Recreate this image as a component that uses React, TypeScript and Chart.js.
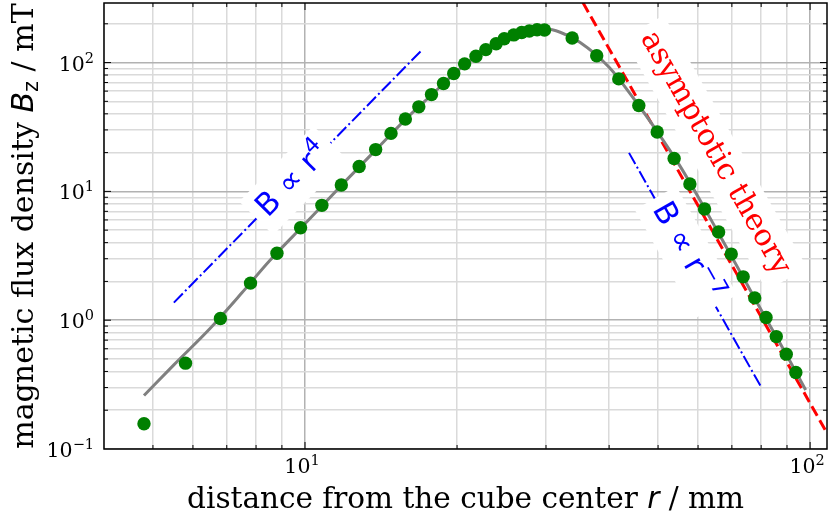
import React, { useEffect, useRef } from 'react';
import { Chart, registerables } from 'chart.js';

Chart.register(...registerables);

// measured field (green dots)
const distX = [4.8, 5.8, 6.8, 7.8, 8.8, 9.8, 10.8, 11.8, 12.8, 13.8, 14.8, 15.8, 16.8, 17.8, 18.8, 19.7, 20.7, 21.8, 22.8, 23.9, 24.8, 25.9, 26.85, 27.8, 28.8, 29.8, 33.8, 37.8, 41.8, 45.8, 49.8, 53.8, 57.8, 61.8, 65.9, 69.8, 73.7, 77.7, 81.8, 85.7, 89.7, 93.7];
const fluxY = [0.157, 0.464, 1.03, 1.94, 3.31, 5.22, 7.79, 11.2, 15.6, 21.1, 28.2, 36.5, 45.3, 56.4, 68.7, 82.2, 97.7, 112, 126, 140, 153, 164, 171, 176, 180, 179, 155, 113, 74.7, 46.4, 28.9, 18.0, 11.4, 7.29, 4.84, 3.26, 2.17, 1.49, 1.05, 0.746, 0.545, 0.393];

// theory curve (grey)
const theoryX = [4.8, 5.5, 6.5, 7.5, 8.5, 10, 12, 14, 16, 18, 20, 22, 24, 26, 28, 30, 32, 35, 40, 45, 50, 55, 60, 65, 70, 75, 80, 85, 90, 98];
const theoryY = [0.26, 0.45, 0.87, 1.63, 2.88, 5.6, 11.9, 22.2, 37.9, 58.3, 86, 114, 141, 163, 177, 182, 172, 144, 92, 51, 28.5, 16.2, 9.1, 5.2, 3.1, 1.9, 1.2, 0.79, 0.53, 0.287];

// asymptotic theory (red dashed)
const asymX = [35.5, 108];
const asymY = [292, 0.133];

// power-law guides (blue dash-dot)
const r4X = [5.5, 17.0];
const r4Y = [1.37, 124];
const r7X = [43.8, 79.9];
const r7Y = [19.9, 0.305];

// axes
const xRange = [4, 108];
const yRange = [0.1, 290];
const xTickValues = [4, 5, 6, 7, 8, 9, 10, 20, 30, 40, 50, 60, 70, 80, 90, 100];
const yTickValues = [0.1, 0.2, 0.3, 0.4, 0.5, 0.6, 0.7, 0.8, 0.9, 1, 2, 3, 4, 5, 6, 7, 8, 9, 10, 20, 30, 40, 50, 60, 70, 80, 90, 100, 200];
// tick labels: [value, mantissa text, exponent text]
const xTickLabels: [number, string, string][] = [[10, '10', '1'], [100, '10', '2']];
const yTickLabels: [number, string, string][] = [[0.1, '10', '−1'], [1, '10', '0'], [10, '10', '1'], [100, '10', '2']];

const SERIF = '"DejaVu Serif"';
const SANS = '"DejaVu Sans"';

type Part = { text: string; font: string; dy?: number };

function isDecade(v: number) {
  const l = Math.log10(v);
  return Math.abs(l - Math.round(l)) < 1e-6;
}

function measure(ctx: CanvasRenderingContext2D, parts: Part[]) {
  return parts.map((p) => {
    ctx.font = p.font;
    return ctx.measureText(p.text).width;
  });
}

function drawRich(ctx: CanvasRenderingContext2D, parts: Part[], x: number, y: number, angle: number, color: string, box: null | { pad: number; asc: number; desc: number }, baselineOffset: number, align: 'center' | 'right' = 'center') {
  ctx.save();
  ctx.translate(x, y);
  ctx.rotate((angle * Math.PI) / 180);
  ctx.textBaseline = 'alphabetic';
  ctx.textAlign = 'left';
  const widths = measure(ctx, parts);
  const total = widths.reduce((a, b) => a + b, 0);
  const start = align === 'center' ? -total / 2 : -total;
  if (box) {
    ctx.fillStyle = '#ffffff';
    ctx.fillRect(start - box.pad, baselineOffset - box.asc - box.pad, total + 2 * box.pad, box.asc + box.desc + 2 * box.pad);
  }
  ctx.fillStyle = color;
  let cx = start;
  parts.forEach((p, i) => {
    ctx.font = p.font;
    ctx.fillText(p.text, cx, baselineOffset + (p.dy || 0));
    cx += widths[i];
  });
  ctx.restore();
}

const guideLabels = [
  {
    parts: [
      { text: 'B ∝ r', font: `31px ${SANS}` },
      { text: '4', font: `22px ${SANS}`, dy: -13 },
    ],
    x: 9.45, y: 12.3, angle: -45.5, color: '#0000ff', size: 31,
  },
  {
    parts: [
      { text: 'B ∝ r', font: `31px ${SANS}` },
      { text: '−7', font: `22px ${SANS}`, dy: -13 },
    ],
    x: 57.0, y: 3.4, angle: 60.6, color: '#0000ff', size: 31,
  },
  {
    parts: [{ text: 'asymptotic theory', font: `30px ${SERIF}` }],
    x: 65.1, y: 20.0, angle: 60.4, color: '#ff0000', size: 30,
  },
];

function drawInwardTicks(chart: any) {
  const ctx: CanvasRenderingContext2D = chart.ctx;
  const { left, right, top, bottom } = chart.chartArea;
  const xs = chart.scales.x;
  const ys = chart.scales.y;
  ctx.save();
  ctx.strokeStyle = '#000000';
  ctx.lineWidth = 1;
  xTickValues.forEach((v) => {
    const px = xs.getPixelForValue(v);
    if (px < left + 1 || px > right - 1) return;
    const len = isDecade(v) ? 7 : 4;
    ctx.beginPath();
    ctx.moveTo(px, bottom);
    ctx.lineTo(px, bottom - len);
    ctx.moveTo(px, top);
    ctx.lineTo(px, top + len);
    ctx.stroke();
  });
  yTickValues.forEach((v) => {
    const py = ys.getPixelForValue(v);
    if (py < top + 1 || py > bottom - 1) return;
    const len = isDecade(v) ? 7 : 4;
    ctx.beginPath();
    ctx.moveTo(left, py);
    ctx.lineTo(left + len, py);
    ctx.moveTo(right, py);
    ctx.lineTo(right - len, py);
    ctx.stroke();
  });
  ctx.lineWidth = 1.5;
  ctx.strokeRect(left, top, right - left, bottom - top);
  ctx.restore();
}

const customPlugin = {
  id: 'customDecor',
  afterDatasetDraw(chart: any, args: any) {
    if (args.index !== 3) return;
    const ctx: CanvasRenderingContext2D = chart.ctx;
    const xs = chart.scales.x;
    const ys = chart.scales.y;
    guideLabels.forEach((l) => {
      const px = xs.getPixelForValue(l.x);
      const py = ys.getPixelForValue(l.y);
      drawRich(ctx, l.parts, px, py, l.angle, l.color, { pad: 8, asc: l.size * 0.78, desc: l.size * 0.24 }, l.size * 0.3);
    });
  },
  afterDraw(chart: any) {
    drawInwardTicks(chart);
    const ctx: CanvasRenderingContext2D = chart.ctx;
    const { left, right, top, bottom } = chart.chartArea;
    const xs = chart.scales.x;
    const ys = chart.scales.y;
    // tick labels
    xTickLabels.forEach(([v, m, e]) => {
      drawRich(ctx, [
        { text: m, font: `20.5px ${SERIF}` },
        { text: e, font: `14.5px ${SERIF}`, dy: -8 },
      ], xs.getPixelForValue(v) - 3, bottom + 23.5, 0, '#000000', null, 0);
    });
    yTickLabels.forEach(([v, m, e]) => {
      drawRich(ctx, [
        { text: m, font: `20.5px ${SERIF}` },
        { text: e, font: `14.5px ${SERIF}`, dy: -8 },
      ], left - 10, ys.getPixelForValue(v) + 8, 0, '#000000', null, 0, 'right');
    });
    // x title
    drawRich(
      ctx,
      [
        { text: 'distance from the cube center ', font: `29.5px ${SERIF}` },
        { text: 'r', font: `italic 29.5px ${SANS}` },
        { text: ' / mm', font: `29.5px ${SERIF}` },
      ],
      (left + right) / 2,
      508,
      0,
      '#000000',
      null,
      0
    );
    // y title
    drawRich(
      ctx,
      [
        { text: 'magnetic flux density ', font: `30px ${SERIF}` },
        { text: 'B', font: `italic 30px ${SANS}` },
        { text: 'z', font: `21px ${SANS}`, dy: 5 },
        { text: ' / mT', font: `30px ${SERIF}` },
      ],
      33,
      (top + bottom) / 2,
      -90,
      '#000000',
      null,
      0
    );
  },
};

function pts(xs: number[], ys: number[]) {
  return xs.map((x, i) => ({ x, y: ys[i] }));
}

export default function App() {
  const ref = useRef<HTMLCanvasElement | null>(null);
  useEffect(() => {
    document.body.style.margin = '0';
    const canvas = ref.current;
    if (!canvas) return;
    const gridColor = (c: any) => (c.tick && isDecade(c.tick.value) ? '#b2b2b2' : '#dadada');
    const chart = new Chart(canvas, {
      type: 'line',
      data: {
        datasets: [
          {
            label: 'measurement',
            data: pts(distX, fluxY),
            showLine: false,
            pointRadius: 6.7,
            pointHoverRadius: 6.7,
            pointBackgroundColor: '#008000',
            pointBorderWidth: 0,
            borderColor: '#008000',
          },
          {
            label: 'theory',
            data: pts(theoryX, theoryY),
            borderColor: '#808080',
            borderWidth: 3,
            pointRadius: 0,
            cubicInterpolationMode: 'monotone',
          },
          {
            label: 'asymptotic theory',
            data: pts(asymX, asymY),
            borderColor: '#ff0000',
            borderWidth: 3,
            borderDash: [11, 5],
            pointRadius: 0,
          },
          {
            label: 'r4',
            data: pts(r4X, r4Y),
            borderColor: '#0000ff',
            borderWidth: 2,
            borderDash: [12.8, 3.2, 2, 3.2],
            pointRadius: 0,
          },
          {
            label: 'r-7',
            data: pts(r7X, r7Y),
            borderColor: '#0000ff',
            borderWidth: 2,
            borderDash: [12.8, 3.2, 2, 3.2],
            pointRadius: 0,
          },
        ],
      } as any,
      options: {
        animation: false,
        responsive: false,
        devicePixelRatio: 1,
        layout: { autoPadding: false, padding: { top: 3, right: 3, left: 0, bottom: 0 } },
        plugins: { legend: { display: false }, tooltip: { enabled: false } },
        events: [],
        scales: {
          x: {
            type: 'logarithmic',
            min: xRange[0],
            max: xRange[1],
            afterBuildTicks: (s: any) => {
              s.ticks = xTickValues.map((v) => ({ value: v }));
            },
            afterFit: (s: any) => {
              s.height = 64;
              s.paddingLeft = 0;
              s.paddingRight = 0;
              s.paddingTop = 0;
              s.paddingBottom = 0;
            },
            grid: { color: gridColor, lineWidth: 1.5, drawTicks: false },
            border: { display: false },
            ticks: { display: false, autoSkip: false, maxRotation: 0 },
          },
          y: {
            type: 'logarithmic',
            min: yRange[0],
            max: yRange[1],
            afterBuildTicks: (s: any) => {
              s.ticks = yTickValues.map((v) => ({ value: v }));
            },
            afterFit: (s: any) => {
              s.width = 104;
              s.paddingLeft = 0;
              s.paddingRight = 0;
              s.paddingTop = 0;
              s.paddingBottom = 0;
            },
            grid: { color: gridColor, lineWidth: 1.5, drawTicks: false },
            border: { display: false },
            ticks: { display: false, autoSkip: false },
          },
        },
      } as any,
      plugins: [customPlugin],
    });
    return () => chart.destroy();
  }, []);
  return (
    <div style={{ width: 830, height: 513 }}>
      <canvas ref={ref} width={830} height={513} style={{ display: 'block', width: 830, height: 513 }} />
    </div>
  );
}
